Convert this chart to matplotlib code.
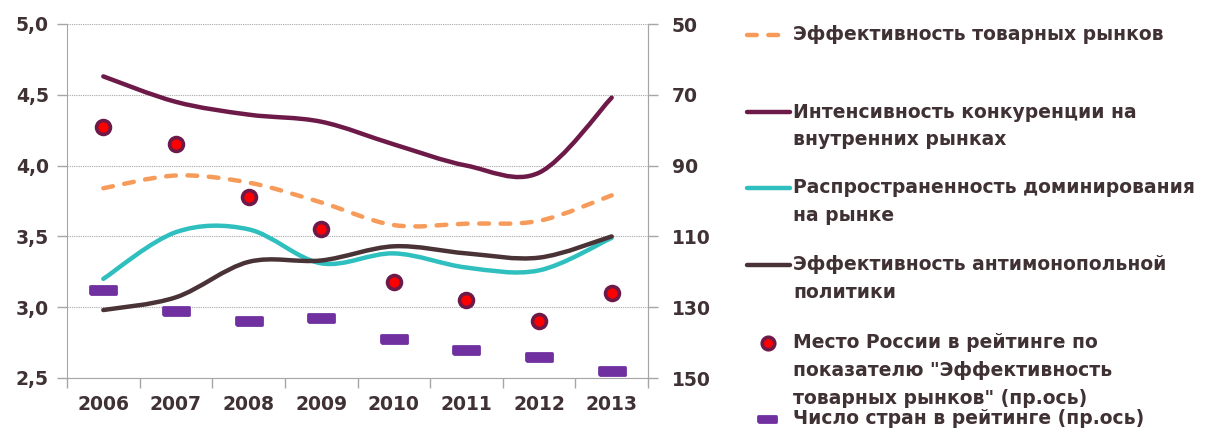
import matplotlib.pyplot as plt
import numpy as np
from matplotlib.path import Path
from matplotlib.patches import PathPatch
from matplotlib.lines import Line2D
from matplotlib.markers import MarkerStyle

plt.rcParams['font.family'] = ['DejaVu Sans']

# Data
years = ['2006', '2007', '2008', '2009', '2010', '2011', '2012', '2013']
goods_eff = [3.84, 3.93, 3.88, 3.74, 3.58, 3.59, 3.61, 3.79]       # dashed orange
competition = [4.63, 4.45, 4.36, 4.31, 4.15, 4.00, 3.95, 4.48]     # dark purple
dominance = [3.20, 3.53, 3.55, 3.31, 3.38, 3.28, 3.26, 3.49]       # teal
antimonopoly = [2.98, 3.07, 3.32, 3.33, 3.43, 3.38, 3.35, 3.50]    # dark brown
russia_rank = [79, 84, 99, 108, 123, 128, 134, 126]                # right axis
n_countries = [125, 131, 134, 133, 139, 142, 144, 148]             # right axis

txt = '#3F3134'
c_orange = '#F79B5A'
c_purple = '#6D1A48'
c_teal = '#2FBFBF'
c_brown = '#4A3336'
c_violet = '#7030A0'
FS = 13.5


def smooth_path(x, y):
    # Excel-like smoothed line: cubic Bezier segments (Catmull-Rom control points)
    pts = np.column_stack([x, y]).astype(float)
    n = len(pts)
    verts = [pts[0]]
    codes = [Path.MOVETO]
    for i in range(n - 1):
        p0 = pts[i - 1] if i > 0 else pts[i]
        p1 = pts[i]
        p2 = pts[i + 1]
        p3 = pts[i + 2] if i + 2 < n else pts[i + 1]
        verts += [p1 + (p2 - p0) / 6, p2 - (p3 - p1) / 6, p2]
        codes += [Path.CURVE4] * 3
    return Path(verts, codes)


fig = plt.figure(figsize=(12.1, 4.28), dpi=100)
ax = fig.add_axes([67 / 1210, 1 - 378 / 428, 581 / 1210, 354 / 428])
x = np.arange(len(years))

ax.set_xlim(-0.5, len(years) - 0.5)
ax.set_ylim(2.5, 5.0)
ax.set_yticks([2.5, 3.0, 3.5, 4.0, 4.5, 5.0])
ax.set_yticklabels(['2,5', '3,0', '3,5', '4,0', '4,5', '5,0'])
ax.set_xticks(np.arange(-0.5, len(years), 1.0))
ax.set_xticklabels([])
ax.set_xticks(x, minor=True)
ax.set_xticklabels(years, minor=True)
ax.tick_params(axis='x', which='major', length=7, color='#A6A6A6', width=1)
ax.tick_params(axis='x', which='minor', length=0, pad=12)
ax.tick_params(axis='y', length=7, color='#A6A6A6', width=1, pad=6)
for lab in ax.get_xticklabels(minor=True) + ax.get_yticklabels():
    lab.set_fontsize(FS)
    lab.set_fontweight('bold')
    lab.set_color(txt)

ax.grid(axis='y', color='#A6A6A6', linestyle=(0, (1, 1)), linewidth=0.8)
ax.set_axisbelow(True)
ax.spines['top'].set_visible(False)
for s in ['left', 'bottom', 'right']:
    ax.spines[s].set_color('#A6A6A6')

series = [
    (goods_eff, c_orange, True),
    (competition, c_purple, False),
    (dominance, c_teal, False),
    (antimonopoly, c_brown, False),
]
for vals, col, dashed in series:
    patch = PathPatch(smooth_path(x, vals), facecolor='none', edgecolor=col,
                      linewidth=3.2, capstyle='round', joinstyle='round')
    if dashed:
        patch.set_linestyle((0, (2.2, 2.6)))
    ax.add_patch(patch)

ax2 = ax.twinx()
ax2.set_ylim(150, 50)
ax2.set_yticks([50, 70, 90, 110, 130, 150])
ax2.tick_params(axis='y', length=7, color='#A6A6A6', width=1, pad=10)
for lab in ax2.get_yticklabels():
    lab.set_fontsize(FS)
    lab.set_fontweight('bold')
    lab.set_color(txt)
for s in ['top', 'left', 'bottom']:
    ax2.spines[s].set_visible(False)
ax2.spines['right'].set_color('#A6A6A6')

dash_path = Path([(-1.3, -0.42), (1.3, -0.42), (1.3, 0.42), (-1.3, 0.42), (-1.3, -0.42)])
dash_marker = MarkerStyle(dash_path, joinstyle='round')
ax2.plot(x, n_countries, linestyle='none', marker=dash_marker, markersize=19,
         color=c_violet, markeredgecolor=c_violet, markeredgewidth=2)
ax2.plot(x, russia_rank, linestyle='none', marker='o', markersize=10,
         markerfacecolor='#FF0000', markeredgecolor=c_purple, markeredgewidth=2.6)

# Manual legend on the right
def fx(px):
    return px / 1210

def fy(py):
    return 1 - py / 428

legend_font = dict(fontsize=FS, fontweight='bold', color=txt, va='center', ha='left')
entries = [
    (35, ['Эффективность товарных рынков']),
    (112, ['Интенсивность конкуренции на', 'внутренних рынках']),
    (188, ['Распространенность доминирования', 'на рынке']),
    (265, ['Эффективность антимонопольной', 'политики']),
    (343, ['Место России в рейтинге по', 'показателю "Эффективность', 'товарных рынков" (пр.ось)']),
    (419, ['Число стран в рейтинге (пр.ось)']),
]
for ypx, lines in entries:
    for k, line in enumerate(lines):
        fig.text(fx(793), fy(ypx + 28 * k), line, **legend_font)

fig.add_artist(Line2D([fx(747), fx(782)], [fy(35), fy(35)], color=c_orange, linewidth=3.2,
                      linestyle=(0, (2.2, 2.6)), dash_capstyle='round'))
for ypx, col in [(112, c_purple), (188, c_teal), (265, c_brown)]:
    fig.add_artist(Line2D([fx(747), fx(790)], [fy(ypx), fy(ypx)], color=col,
                          linewidth=3.2, solid_capstyle='round'))
fig.add_artist(Line2D([fx(768)], [fy(343)], marker='o', markersize=9,
                      markerfacecolor='#FF0000', markeredgecolor=c_purple, markeredgewidth=2.6))
fig.add_artist(Line2D([fx(767)], [fy(419)], marker=dash_marker, markersize=13,
                      color=c_violet, markeredgecolor=c_violet, markeredgewidth=2))

fig.savefig('out.png', dpi=100)
